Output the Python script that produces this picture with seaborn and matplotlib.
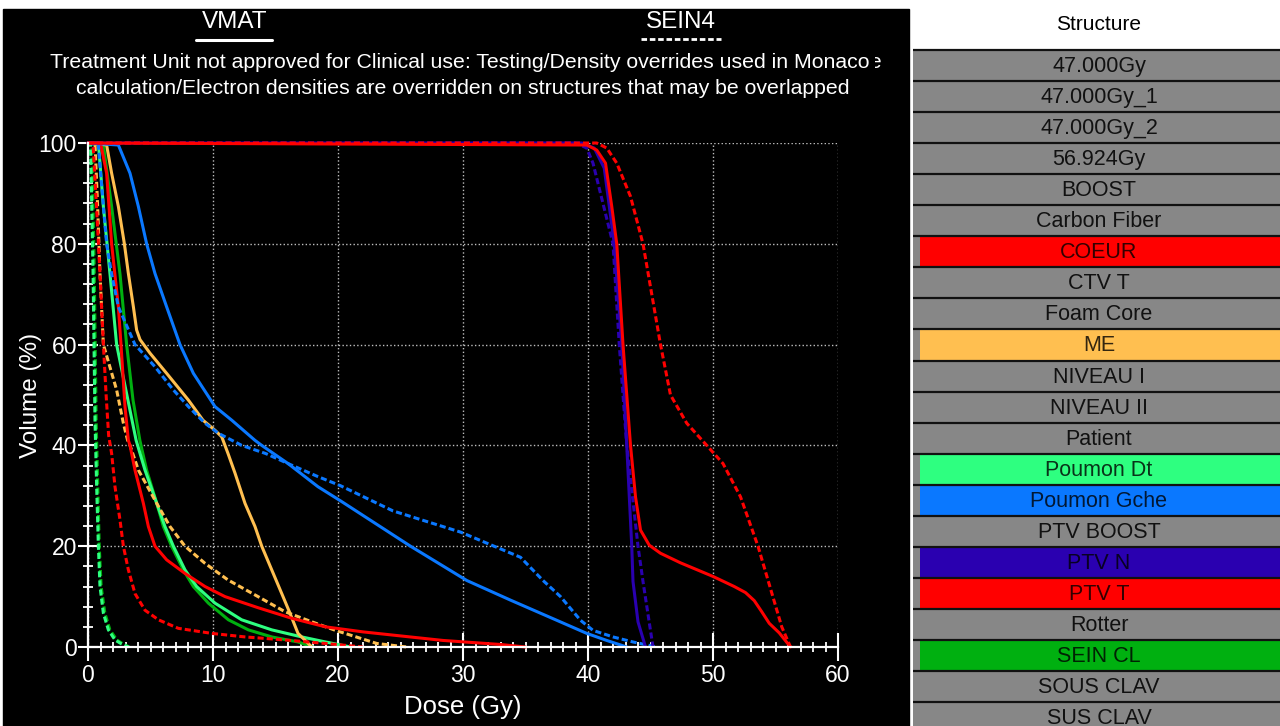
import numpy as np
import pandas as pd
import matplotlib
matplotlib.use('Agg')
from matplotlib import pyplot as plt
from matplotlib.patches import Rectangle
from matplotlib.lines import Line2D
from matplotlib.ticker import MultipleLocator
from matplotlib.transforms import Bbox
import seaborn as sns

# DVH curves: dose (Gy) and volume (%)
coeur_vmat_dose = [0, 1.0, 1.49, 1.89, 2.43, 2.64, 2.96, 3.23, 3.36, 3.76, 4.43, 4.83, 5.36, 6.29, 7.76,
                   9.36, 10.96, 13.6, 16.3, 19.0, 22.0, 25.0, 28.4, 33.0, 35.0]
coeur_vmat_vol = [100, 100, 94, 80, 67.5, 60, 47.7, 41, 40, 35.1, 28.5, 23.9, 20, 17.3, 14.6,
                  12, 10, 7.8, 5.7, 4.0, 3.0, 2.2, 1.3, 0.5, 0]
coeur_sein4_dose = [0, 0.4, 0.69, 0.96, 1.23, 1.45, 1.65, 1.89, 2.16, 2.56, 2.83, 3.23, 3.76, 4.56,
                    5.63, 7.23, 9.9, 12.56, 15.76, 19.0, 22.0]
coeur_sein4_vol = [100, 100, 87, 74, 60, 50, 42, 38.4, 31.8, 25.2, 20, 15.3, 10.6, 7.3,
                   5.4, 3.7, 2.7, 2.0, 1.4, 0.7, 0]

me_vmat_dose = [0, 1.49, 1.89, 2.43, 2.91, 3.23, 3.63, 3.89, 4.16, 4.96, 6.29, 8.03, 9.2, 10.16, 10.7,
                11.2, 11.76, 12.56, 13.36, 13.9, 14.7, 15.5, 16.16, 16.8, 17.5, 17.9]
me_vmat_vol = [100, 99.6, 94, 87.4, 80, 74.1, 67.5, 62.9, 61, 58.3, 54.3, 49, 45, 43, 41.7,
               38.4, 34.5, 28.5, 23.9, 20, 15.3, 10.6, 6.7, 2.7, 1.0, 0]
me_sein4_dose = [0, 0.56, 0.77, 0.96, 1.23, 2.29, 2.83, 3.17, 3.36, 4.03, 5.5, 6.56, 7.76, 9.36,
                 11.2, 13.6, 15.76, 17.9, 19.8, 23.1, 25.5]
me_sein4_vol = [100, 100, 87.4, 74, 60, 51, 44.4, 41, 40, 35.1, 28.5, 23.9, 20, 16.6,
                13.3, 10, 7.0, 5.0, 3.3, 0.7, 0]

pg_vmat_dose = [0, 2.43, 3.36, 4.03, 4.69, 5.36, 6.29, 7.36, 8.43, 10.16, 11.5, 13.36, 13.9, 16.0,
                18.4, 20.2, 25.8, 30.3, 33.8, 37.5, 39.9, 41.5, 43.1]
pg_vmat_vol = [100, 99.6, 94, 87.4, 80, 74.1, 67.5, 60, 54.3, 47.7, 45, 41, 40, 36.4,
               31.8, 29, 20, 13.2, 9.3, 5.3, 2.7, 1.3, 0]
pg_sein4_dose = [0, 0.83, 1.23, 1.49, 1.89, 2.43, 3.76, 5.36, 6.83, 8.03, 9.36, 10.43, 12.3, 14.2,
                 16.0, 18.4, 20.2, 24.4, 29.8, 34.6, 36.4, 37.8, 39.4, 40.4, 42.0, 43.6, 45.5]
pg_sein4_vol = [100, 99.6, 87.4, 80, 74, 67.5, 60, 55.6, 51, 47.7, 44.4, 42.4, 40, 38.4,
                36.4, 33.8, 32, 27, 22.8, 17.8, 13.2, 10, 5.3, 3.3, 2.0, 1.0, 0]

pd_vmat_dose = [0, 0.83, 1.23, 1.76, 2.29, 3.3, 3.85, 4.56, 5.5, 6.16, 6.83, 7.76, 8.69,
                10.16, 12.29, 14.7, 17.1, 19.0, 21.0]
pd_vmat_vol = [100, 100, 87.4, 74, 60, 47.7, 41, 35.1, 28.5, 23.9, 20, 15.3, 12,
               8.7, 5.4, 3.4, 2.0, 1.0, 0]
pd_sein4_dose = [0, 0.2, 0.4, 0.56, 0.69, 0.83, 0.96, 1.23, 1.63, 2.16, 2.69, 3.23]
pd_sein4_vol = [100, 100, 75, 45, 32, 20, 12, 6.7, 3.4, 1.4, 0.6, 0]

scl_vmat_dose = [0, 1.23, 1.89, 2.56, 3.09, 3.6, 4.15, 4.69, 5.5, 6.03, 6.69, 7.63, 8.43,
                 9.63, 11.23, 12.83, 14.7, 16.8, 18.0]
scl_vmat_vol = [100, 99.6, 87.4, 74, 60, 49, 41, 35.1, 28.5, 23.9, 20, 15.3, 12,
                8.7, 5.4, 3.4, 2.0, 1.0, 0]
scl_sein4_dose = [0, 0.3, 0.5, 0.65, 0.78, 0.9, 1.05, 1.35, 1.75, 2.3, 2.8, 3.3]
scl_sein4_vol = [100, 100, 75, 45, 32, 20, 12, 6.7, 3.4, 1.4, 0.6, 0]

ptvn_vmat_dose = [0, 39.5, 40.5, 41.3, 42.1, 42.7, 43.1, 43.5, 43.6, 44.0, 44.6]
ptvn_vmat_vol = [100, 100, 99, 95, 80, 60, 40, 20, 13, 5, 0]
ptvn_sein4_dose = [0, 39.0, 39.9, 40.4, 42.0, 42.5, 43.1, 44.0, 44.4, 45.2]
ptvn_sein4_vol = [100, 100, 99, 96, 80, 60, 40, 20, 13, 0]

ptvt_vmat_dose = [0, 39.9, 40.7, 41.4, 41.9, 42.3, 42.8, 43.4, 43.8, 44.2, 44.9, 45.8, 47.4, 50.0,
                  51.7, 52.6, 53.3, 53.9, 54.5, 55.3, 56.2]
ptvt_vmat_vol = [100, 99.6, 98.6, 96, 87.4, 80, 60, 40, 29.8, 23.2, 20.2, 18.6, 16.7, 14,
                 12, 10.8, 9.2, 7.0, 4.7, 2.8, 0]
ptvt_sein4_dose = [0, 40.7, 41.5, 42.3, 43.4, 44.4, 45.8, 46.6, 47.9, 49.5, 50.8, 52.2, 53.6, 54.8,
                   55.5, 56.2]
ptvt_sein4_vol = [100, 100, 99, 96, 89.4, 80, 60, 50, 44.4, 40, 36.4, 29.8, 20, 9.9, 4, 0]

structures = ['47.000Gy', '47.000Gy_1', '47.000Gy_2', '56.924Gy', 'BOOST', 'Carbon Fiber',
              'COEUR', 'CTV T', 'Foam Core', 'ME', 'NIVEAU I', 'NIVEAU II', 'Patient',
              'Poumon Dt', 'Poumon Gche', 'PTV BOOST', 'PTV N', 'PTV T', 'Rotter',
              'SEIN CL', 'SOUS CLAV', 'SUS CLAV']

colours = {'COEUR': '#ff0000', 'ME': '#ffbf50', 'Poumon Dt': '#2eff80',
           'Poumon Gche': '#0a78ff', 'PTV N': '#2a00b0', 'PTV T': '#ff0000',
           'SEIN CL': '#00b010'}

curves = [
    ('SEIN CL', 'VMAT', scl_vmat_dose, scl_vmat_vol),
    ('SEIN CL', 'SEIN4', scl_sein4_dose, scl_sein4_vol),
    ('Poumon Dt', 'VMAT', pd_vmat_dose, pd_vmat_vol),
    ('Poumon Dt', 'SEIN4', pd_sein4_dose, pd_sein4_vol),
    ('ME', 'VMAT', me_vmat_dose, me_vmat_vol),
    ('ME', 'SEIN4', me_sein4_dose, me_sein4_vol),
    ('COEUR', 'VMAT', coeur_vmat_dose, coeur_vmat_vol),
    ('COEUR', 'SEIN4', coeur_sein4_dose, coeur_sein4_vol),
    ('Poumon Gche', 'VMAT', pg_vmat_dose, pg_vmat_vol),
    ('Poumon Gche', 'SEIN4', pg_sein4_dose, pg_sein4_vol),
    ('PTV N', 'VMAT', ptvn_vmat_dose, ptvn_vmat_vol),
    ('PTV N', 'SEIN4', ptvn_sein4_dose, ptvn_sein4_vol),
    ('PTV T', 'VMAT', ptvt_vmat_dose, ptvt_vmat_vol),
    ('PTV T', 'SEIN4', ptvt_sein4_dose, ptvt_sein4_vol),
]
df = pd.concat([pd.DataFrame({'dose': d, 'volume': v, 'structure': s, 'plan': p})
                for s, p, d, v in curves], ignore_index=True)

sns.set_style('dark', rc={'axes.facecolor': 'black'})
plt.rcParams['font.family'] = ['Liberation Sans', 'DejaVu Sans']

W, H = 1280, 726
fig = plt.figure(figsize=(12.8, 7.26), dpi=100, facecolor='white')
fig.patches.append(Rectangle((3 / W, 0), (909 - 3) / W, (H - 9) / H,
                             transform=fig.transFigure, color='black', zorder=-5))

ax = fig.add_axes([88 / W, 1 - 647 / H, 750 / W, 504 / H])
hue_order = ['SEIN CL', 'Poumon Dt', 'ME', 'COEUR', 'Poumon Gche', 'PTV N', 'PTV T']
sns.lineplot(data=df, x='dose', y='volume', hue='structure', style='plan',
             hue_order=hue_order, palette=colours, style_order=['VMAT', 'SEIN4'],
             dashes={'VMAT': '', 'SEIN4': (2, 1)}, sort=False, estimator=None,
             linewidth=2.2, legend=False, ax=ax, clip_on=False)

ax.set_xlim(0, 60)
ax.set_ylim(0, 100)
ax.xaxis.set_major_locator(MultipleLocator(10))
ax.xaxis.set_minor_locator(MultipleLocator(1))
ax.yaxis.set_major_locator(MultipleLocator(20))
ax.yaxis.set_minor_locator(MultipleLocator(4))
ax.grid(True, which='major', color='white', linestyle=':', linewidth=1, alpha=0.75)
ax.set_axisbelow(True)
for side in ['top', 'right']:
    ax.spines[side].set_visible(False)
for side in ['left', 'bottom']:
    ax.spines[side].set_color('white')
    ax.spines[side].set_linewidth(1.6)
ax.tick_params(axis='x', which='major', direction='inout', length=20, width=1.5,
               bottom=True, colors='white', labelsize=16.5, pad=2)
ax.tick_params(axis='x', which='minor', direction='inout', length=6.5, width=1.3,
               bottom=True, colors='white')
ax.tick_params(axis='y', which='major', direction='inout', length=14, width=1.5,
               left=True, colors='white', labelsize=16.5, pad=1)
ax.tick_params(axis='y', which='minor', direction='inout', length=7, width=1.3,
               left=True, colors='white')
ax.set_xlabel('Dose (Gy)', color='white', fontsize=18.5)
ax.set_ylabel('Volume (%)', color='white', fontsize=17.5)
ax.xaxis.set_label_coords(0.5, -0.095)
ax.yaxis.set_label_coords(-0.062, 0.5)

# header: plan names and warning text
fig.text(235 / W, 1 - 22 / H, 'VMAT', color='white', fontsize=17.5, ha='center', va='center')
fig.text(681 / W, 1 - 22 / H, 'SEIN4', color='white', fontsize=17.5, ha='center', va='center')
fig.lines.append(Line2D([196 / W, 272 / W], [1 - 40 / H] * 2, transform=fig.transFigure,
                        color='white', linewidth=2.2))
fig.lines.append(Line2D([641 / W, 721 / W], [1 - 39 / H] * 2, transform=fig.transFigure,
                        color='white', linewidth=2, dashes=(2, 1)))

renderer = fig.canvas.get_renderer()
warn1 = 'Treatment Unit not approved for Clinical use: Testing/Density overrides used in Monaco'
warn2 = 'calculation/Electron densities are overridden on structures that may be overlapped'
for txt, x0, x1, yc in [(warn1, 48, 872, 62), (warn2, 75, 850, 88)]:
    t = fig.text((x0 + x1) / 2 / W, 1 - yc / H, txt, color='white', fontsize=15,
                 ha='center', va='center')
    wpx = t.get_window_extent(renderer).width
    t.set_fontsize(15 * (x1 - x0) / wpx)
ce = fig.text(869 / W, 1 - 62 / H, 'e', color='white', fontsize=15, ha='left', va='center')
ce.set_clip_box(Bbox([[875, 0], [884, H]]))
ce.set_clip_on(True)

# structure table on the right
ax2 = fig.add_axes([913 / W, 0, (W - 913) / W, 1])
ax2.set_xlim(0, W - 913)
ax2.set_ylim(H, 0)
ax2.set_facecolor('white')
ax2.axis('off')
row_h = 31.05
top = 50
centers = [top + row_h * (i + 0.5) for i in range(len(structures))]
ax2.barh(centers, W - 913, height=row_h, left=0, color='#878787', linewidth=0)
for name, yc in zip(structures, centers):
    if name in colours:
        ax2.barh(yc, W - 920, height=row_h, left=7, color=colours[name], linewidth=0)
        ax2.text(186, yc + 1, name, color='black', alpha=0.8, fontsize=15.5,
                 ha='center', va='center')
    else:
        ax2.text(186, yc + 1, name, color='#111111', fontsize=15.5,
                 ha='center', va='center')
ax2.hlines([top + row_h * i for i in range(len(structures) + 1)], 0, W - 913,
           color='#111111', linewidth=1.6)
ax2.text(186, 24, 'Structure', color='black', fontsize=15, ha='center', va='center')

fig.savefig('out.png', dpi=100, facecolor='white')
